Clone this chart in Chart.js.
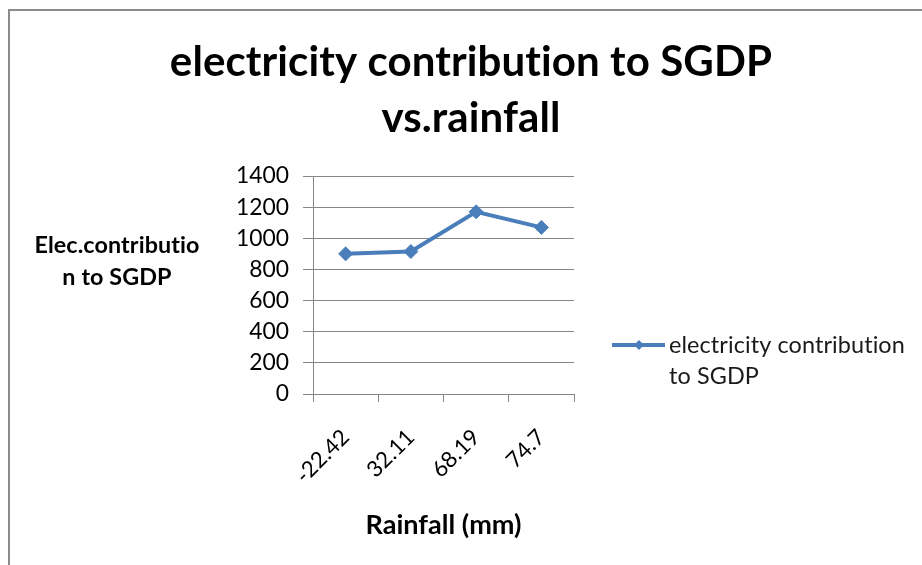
<!DOCTYPE html>
<html>
<head>
<meta charset="utf-8">
<script src="https://cdn.jsdelivr.net/npm/chart.js@4"></script>
<style>
  html, body { margin: 0; padding: 0; background: #fff; }
  #wrap { position: relative; width: 922px; height: 565px; overflow: hidden; }
  #frame { position: absolute; left: 8px; top: 9px; width: 940px; height: 600px; border: 2px solid #8c8c8c; box-sizing: border-box; }
  canvas { position: absolute; left: 0; top: 0; }
</style>
</head>
<body>
<div id="wrap">
  <div id="frame"></div>
  <canvas id="c" width="922" height="565"></canvas>
</div>
<script>
// Rainfall categories and electricity contribution to SGDP
const rainfall = ['-22.42', '32.11', '68.19', '74.7'];
const elecContribution = [900, 915, 1170, 1070];
const yTicks = [0, 200, 400, 600, 800, 1000, 1200, 1400];

const titleLines = ['electricity contribution to SGDP', 'vs.rainfall'];
const yTitleLines = ['Elec.contributio', 'n to SGDP'];
const xTitle = 'Rainfall (mm)';
const seriesName = ['electricity contribution', 'to SGDP'];

const FONT = 'Lato, "Open Sans", sans-serif';
const BLUE = '#4a7ebb';
const GRID = '#868686';
const SPACING = '0.1px'; // tiny tracking keeps "t"+"i" as separate glyphs

// pick a font size so that a piece of text takes the given width
const probe = document.createElement('canvas').getContext('2d');
function sizeFor(text, width, weight) {
  probe.font = (weight || 'normal') + ' 100px ' + FONT;
  probe.letterSpacing = '0px';
  return 100 * width / probe.measureText(text).width;
}
const titleSize = sizeFor(titleLines[0], 600, 'bold');
const yTitleSize = sizeFor(yTitleLines[0], 164, 'bold');
const xTitleSize = sizeFor(xTitle, 156, 'bold');
const legendSize = sizeFor(seriesName[0], 234);
const yTickSize = sizeFor('1400', 53);
const xTickSize = sizeFor('74.7', 44);

// Title, horizontal y-axis title and legend drawn on the canvas
const annotations = {
  id: 'annotations',
  afterDraw(chart) {
    const ctx = chart.ctx;
    ctx.save();
    ctx.letterSpacing = SPACING;
    ctx.fillStyle = '#000';
    ctx.textAlign = 'center';
    ctx.textBaseline = 'middle';
    ctx.font = 'bold ' + titleSize + 'px ' + FONT;
    ctx.fillText(titleLines[0], 471, 62);
    ctx.fillText(titleLines[1], 471, 118);

    ctx.font = 'bold ' + yTitleSize + 'px ' + FONT;
    ctx.fillText(yTitleLines[0], 117, 245);
    ctx.fillText(yTitleLines[1], 117, 277);

    // legend entry
    const ly = 345;
    ctx.strokeStyle = BLUE;
    ctx.lineWidth = 4;
    ctx.beginPath();
    ctx.moveTo(612, ly);
    ctx.lineTo(665, ly);
    ctx.stroke();
    ctx.fillStyle = BLUE;
    ctx.beginPath();
    ctx.moveTo(639, ly - 5);
    ctx.lineTo(644, ly);
    ctx.lineTo(639, ly + 5);
    ctx.lineTo(634, ly);
    ctx.closePath();
    ctx.fill();

    ctx.fillStyle = '#1a1a1a';
    ctx.textAlign = 'left';
    ctx.font = legendSize + 'px ' + FONT;
    ctx.fillText(seriesName[0], 669, ly);
    ctx.fillText(seriesName[1], 669, ly + 31);
    ctx.restore();
  }
};

new Chart(document.getElementById('c'), {
  type: 'line',
  data: {
    labels: rainfall,
    datasets: [{
      label: seriesName.join(' '),
      data: elecContribution,
      borderColor: BLUE,
      backgroundColor: BLUE,
      borderWidth: 4,
      pointStyle: 'rectRot',
      pointRadius: 7,
      pointBorderWidth: 1,
      tension: 0
    }]
  },
  options: {
    responsive: false,
    animation: false,
    layout: { padding: { left: 0, right: 348, top: 176, bottom: 23 } },
    plugins: {
      legend: { display: false },
      title: { display: false },
      tooltip: { enabled: false }
    },
    scales: {
      x: {
        type: 'category',
        offset: true,
        grid: { offset: true, drawOnChartArea: false, drawTicks: true, tickLength: 8, color: GRID },
        border: { color: GRID, width: 1 },
        ticks: { color: '#000', font: { family: FONT, size: xTickSize }, minRotation: 45, maxRotation: 45, padding: 22 },
        title: { display: true, text: xTitle, color: '#000', font: { family: FONT, size: xTitleSize, weight: 'bold' }, padding: { top: 0, bottom: 0 } },
        afterFit(s) { s.height = 565 - 394 - 23; }
      },
      y: {
        min: 0,
        max: 1400,
        afterBuildTicks(s) { s.ticks = yTicks.map(v => ({ value: v })); },
        grid: { color: GRID, tickLength: 10 },
        border: { color: GRID, width: 1 },
        ticks: { color: '#000', font: { family: FONT, size: yTickSize }, padding: 14, callback: v => String(v) },
        afterFit(s) { s.width = 313; }
      }
    }
  },
  plugins: [annotations]
});
</script>
</body>
</html>
